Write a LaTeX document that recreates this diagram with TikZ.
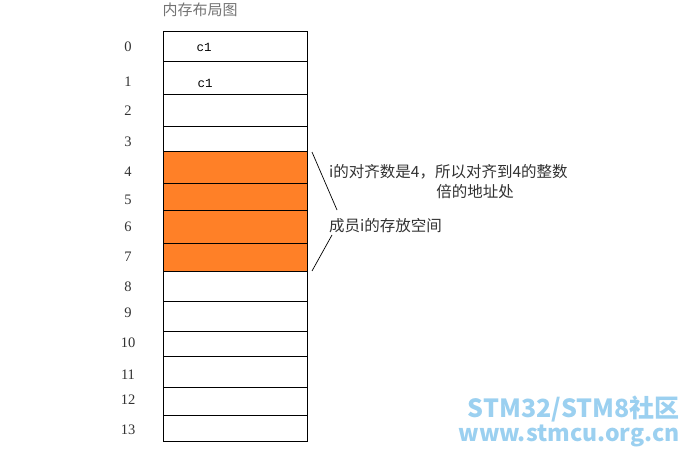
\documentclass[tikz,border=0pt]{standalone}
\usepackage{fontspec}
\setmainfont{Liberation Serif}
\newfontfamily\cjk{Noto Sans CJK SC}
\newfontfamily\monof{Liberation Mono}
\definecolor{cellorange}{RGB}{255,128,39}
\definecolor{wmblue}{RGB}{155,208,240}
\definecolor{txtgray}{RGB}{50,50,50}
\tikzset{
  cell/.style={draw=black, line width=0.9pt, minimum width=144pt, inner sep=0pt, fill=white},
  hot/.style={fill=cellorange},
  idx/.style={font=\fontsize{14.5}{14.5}\selectfont, text=txtgray, inner sep=0pt},
  note/.style={font=\cjk\fontsize{15.5}{16}\selectfont, text=txtgray, inner sep=0pt},
  ctext/.style={font=\monof\fontsize{12.5}{12.5}\selectfont, inner sep=0pt},
  conn/.style={draw=black, line width=0.7pt},
  wm/.style={text=wmblue, inner sep=0pt, anchor=east}
}
\begin{document}
\begin{tikzpicture}[x=1pt,y=-1pt]
\useasboundingbox (0,0) rectangle (685,457);
\node[note, text=gray!90!black, font=\cjk\fontsize{15}{15}\selectfont] (title) at (200,10) {内存布局图};
\foreach \i/\t/\b/\ly in {0/31/61/47,1/61/94/82,2/94/126/111,3/126/151/142,
  8/271/301/287,9/301/331/313,10/331/356/343,11/356/387/375,12/387/415/400,13/415/441/430}{
  \pgfmathsetmacro\hh{\b-\t}
  \node[cell, minimum height=\hh pt] (c\i) at (235,{(\t+\b)/2}) {};
  \node[idx] (n\i) at (128,\ly) {\i};
}
\foreach \i/\t/\b/\ly in {4/151/183/172,5/183/210/200,6/210/243/227,7/243/271/257}{
  \pgfmathsetmacro\hh{\b-\t}
  \node[cell, hot, minimum height=\hh pt] (c\i) at (235,{(\t+\b)/2}) {};
  \node[idx] (n\i) at (128,\ly) {\i};
}
\node[ctext] (v0) at (204,47) {c1};
\node[ctext] (v1) at (205,83) {c1};
\node[note, anchor=west] (t1) at (329,172) {i的对齐数是4，所以对齐到4的整数};
\node[note] (t2) at (475,192) {倍的地址处};
\node[note, anchor=west] (t3) at (329,226) {成员i的存放空间};
\coordinate (a1) at (312,152);
\coordinate (a2) at (337,210);
\coordinate (b1) at (332,235);
\coordinate (b2) at (312,271);
\draw[conn] (a1) -- (a2);
\draw[conn] (b1) -- (b2);
\node[wm, font=\cjk\bfseries\fontsize{25}{25}\selectfont] (w1) at (680,409) {STM32/STM8社区};
\node[wm, font=\cjk\bfseries\fontsize{23}{23}\selectfont] (w2) at (680,436) {www.stmcu.org.cn};
\end{tikzpicture}
\end{document}
